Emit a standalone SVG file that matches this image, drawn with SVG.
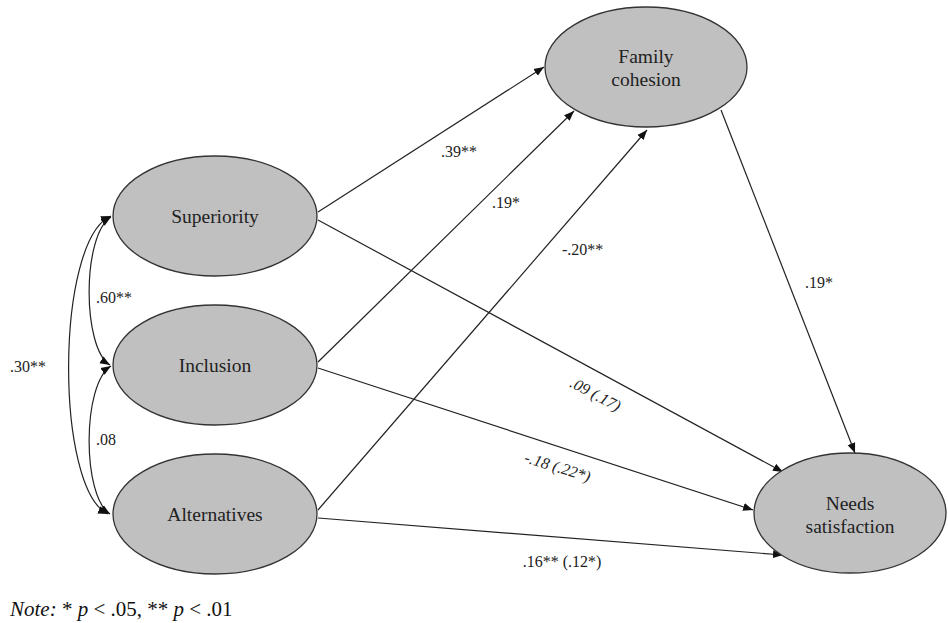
<svg xmlns="http://www.w3.org/2000/svg" width="948" height="623" viewBox="0 0 948 623">
<style>
.node ellipse{fill:#c0c0c0;stroke:#333;stroke-width:1.3}
.node text{font-family:"Liberation Serif","Times New Roman","DejaVu Serif",Times,serif;font-size:19.5px;fill:#222;text-anchor:middle}
.edges path,.edges line{fill:none;stroke:#222;stroke-width:1.2}
.lbl{font-family:"Liberation Serif","Times New Roman","DejaVu Serif",Times,serif;font-size:16px;fill:#222}
.it{font-style:italic}
.note{font-family:"Liberation Serif","Times New Roman","DejaVu Serif",Times,serif;font-size:21px;fill:#111}
</style>
<defs>
<marker id="ah" viewBox="0 0 10 10" refX="10" refY="5" markerWidth="10" markerHeight="10" markerUnits="userSpaceOnUse" orient="auto">
<path d="M0,1 L10,5 L0,9 z" fill="#111"/>
</marker>
<marker id="ahs" viewBox="0 0 10 10" refX="10" refY="5" markerWidth="10" markerHeight="10" markerUnits="userSpaceOnUse" orient="auto-start-reverse">
<path d="M0,1 L10,5 L0,9 z" fill="#111"/>
</marker>
</defs>
<rect width="948" height="623" fill="#fff"/>
<g class="edges">
<line x1="318" y1="212" x2="544" y2="67" marker-end="url(#ah)"/>
<line x1="318" y1="362" x2="574" y2="111" marker-end="url(#ah)"/>
<line x1="318" y1="510" x2="647" y2="130" marker-end="url(#ah)"/>
<line x1="721" y1="110" x2="855" y2="453" marker-end="url(#ah)"/>
<line x1="318" y1="220" x2="783" y2="472" marker-end="url(#ah)"/>
<line x1="318" y1="368" x2="753" y2="510" marker-end="url(#ah)"/>
<line x1="318" y1="518" x2="783" y2="555" marker-end="url(#ah)"/>
<path d="M111,217 C82,235 82,348 110,365" marker-start="url(#ahs)" marker-end="url(#ahs)"/>
<path d="M111,366 C82,384 82,496 110,514" marker-start="url(#ahs)" marker-end="url(#ahs)"/>
<path d="M111,216 C55,240 55,490 108,514" marker-start="url(#ahs)" marker-end="url(#ahs)"/>
</g>
<g id="superiority" class="node"><ellipse cx="215" cy="216" rx="102" ry="60"/><text x="215" y="223">Superiority</text></g>
<g id="inclusion" class="node"><ellipse cx="215" cy="365" rx="102" ry="60"/><text x="215" y="372">Inclusion</text></g>
<g id="alternatives" class="node"><ellipse cx="215" cy="514" rx="102" ry="60"/><text x="215" y="521">Alternatives</text></g>
<g id="family" class="node"><ellipse cx="646" cy="67" rx="101" ry="60"/><text x="646" y="63">Family</text><text x="646" y="86">cohesion</text></g>
<g id="needs" class="node"><ellipse cx="850" cy="513" rx="96" ry="60"/><text x="850" y="510">Needs</text><text x="850" y="533">satisfaction</text></g>
<g id="labels">
<text class="lbl" x="96" y="303">.60**</text>
<text class="lbl" x="10" y="372">.30**</text>
<text class="lbl" x="96" y="445">.08</text>
<text class="lbl" x="441" y="157">.39**</text>
<text class="lbl" x="492" y="208">.19*</text>
<text class="lbl" x="562" y="255">-.20**</text>
<text class="lbl" x="805" y="288">.19*</text>
<text class="lbl it" text-anchor="middle" transform="translate(593,399) rotate(28)">.09 (.17)</text>
<text class="lbl it" text-anchor="middle" transform="translate(556,472) rotate(17)">-.18 (.22*)</text>
<text class="lbl" x="562" y="567" text-anchor="middle">.16** (.12*)</text>
<text class="note" x="10" y="616"><tspan font-style="italic">Note:</tspan> * <tspan font-style="italic">p</tspan> &lt; .05, ** <tspan font-style="italic">p</tspan> &lt; .01</text>
</g>
</svg>
